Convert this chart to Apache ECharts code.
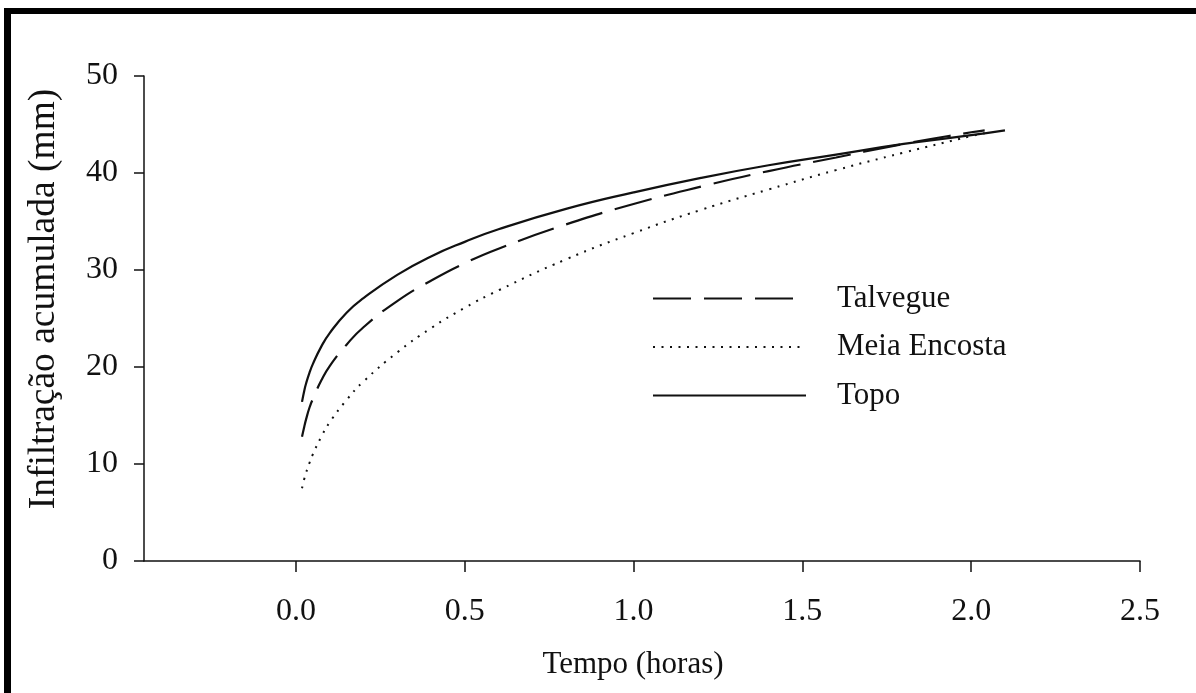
<!DOCTYPE html>
<html>
<head>
<meta charset="utf-8">
<script src="https://cdn.jsdelivr.net/npm/echarts@6/dist/echarts.min.js"></script>
<style>
  html, body { margin: 0; padding: 0; background: #fff; }
  #chart { width: 1196px; height: 693px; }
</style>
</head>
<body>
<div id="chart"></div>
<script>
// Tempo (horas) and infiltração acumulada (mm) for each position on the slope
const tempo = [0.018, 0.025, 0.03, 0.04, 0.05, 0.075, 0.1, 0.15, 0.2, 0.3, 0.4, 0.5, 0.6, 0.8, 1.0, 1.2, 1.4, 1.6, 1.8, 2.0];
const tempoFinal = { talvegue: 2.04, meiaEncosta: 2.04, topo: 2.1 };

const talvegue    = [12.8, 13.9, 14.6, 15.8, 16.7, 18.6, 20.1, 22.3, 24.1, 26.8, 28.9, 30.7, 32.2, 34.7, 36.8, 38.6, 40.2, 41.6, 43.0, 44.2, 44.4];
const meiaEncosta = [7.5, 8.5, 9.1, 10.1, 11.0, 12.8, 14.3, 16.6, 18.5, 21.5, 24.0, 26.1, 27.9, 31.1, 33.8, 36.2, 38.3, 40.3, 42.1, 43.8, 44.1];
const topo        = [16.4, 17.6, 18.3, 19.4, 20.3, 22.1, 23.5, 25.6, 27.1, 29.5, 31.4, 32.9, 34.2, 36.3, 38.0, 39.5, 40.8, 41.9, 43.0, 43.9, 44.4];

const xTicks = [0.0, 0.5, 1.0, 1.5, 2.0, 2.5];
const seriesNames = ['Talvegue', 'Meia Encosta', 'Topo'];

function pairs(xs, ys) {
  return ys.map((y, i) => [xs[i], y]);
}

const FONT = '"Liberation Serif", "Times New Roman", serif';
const INK = '#111';

const chart = echarts.init(document.getElementById('chart'));

chart.setOption({
  backgroundColor: '#fff',
  animation: false,
  grid: { left: 144, right: 56, top: 76, bottom: 132, containLabel: false },
  xAxis: {
    type: 'value',
    min: -0.45,
    max: 2.5,
    name: 'Tempo (horas)',
    nameLocation: 'middle',
    nameGap: 88,
    nameTextStyle: { fontFamily: FONT, fontSize: 31, color: INK, padding: [0, 18, 0, 0] },
    axisLine: { show: true, onZero: false, lineStyle: { color: INK, width: 1.5 } },
    axisTick: { show: true, length: 11, customValues: xTicks, lineStyle: { color: INK, width: 1.5 } },
    axisLabel: {
      customValues: xTicks,
      margin: 35,
      fontFamily: FONT, fontSize: 32, color: INK,
      formatter: v => v.toFixed(1)
    },
    splitLine: { show: false }
  },
  yAxis: {
    type: 'value',
    min: 0,
    max: 50,
    interval: 10,
    axisLine: { show: true, onZero: false, lineStyle: { color: INK, width: 1.5 } },
    axisTick: { show: true, length: 10, lineStyle: { color: INK, width: 1.5 } },
    axisLabel: { margin: 26, fontFamily: FONT, fontSize: 32, color: INK },
    splitLine: { show: false }
  },
  legend: {
    orient: 'vertical',
    left: 652,
    top: 283,
    padding: 0,
    itemWidth: 153,
    itemHeight: 14,
    itemGap: 17.5,
    data: seriesNames,
    itemStyle: { opacity: 0 },
    textStyle: { fontFamily: FONT, fontSize: 31, color: INK, lineHeight: 31, padding: [0, 0, 0, 26] }
  },
  graphic: [
    // frame edges along the top and left
    { type: 'rect', left: 4, top: 8, shape: { width: 1192, height: 6 }, style: { fill: '#000' } },
    { type: 'rect', left: 4, top: 8, shape: { width: 7, height: 685 }, style: { fill: '#000' } },
    {
      type: 'text',
      x: 44, y: 299,
      rotation: Math.PI / 2,
      style: {
        text: 'Infiltração acumulada (mm)',
        fontFamily: FONT, fontSize: 37.5, fill: INK,
        align: 'center', verticalAlign: 'middle'
      }
    }
  ],
  series: [
    {
      name: 'Talvegue',
      type: 'line',
      smooth: true,
      symbol: 'none',
      data: pairs(tempo.concat([tempoFinal.talvegue]), talvegue),
      itemStyle: { color: INK },
      lineStyle: { color: INK, width: 2.2, type: [38, 13] }
    },
    {
      name: 'Meia Encosta',
      type: 'line',
      smooth: true,
      symbol: 'none',
      data: pairs(tempo.concat([tempoFinal.meiaEncosta]), meiaEncosta),
      itemStyle: { color: INK },
      lineStyle: { color: INK, width: 2, type: [2, 6.5] }
    },
    {
      name: 'Topo',
      type: 'line',
      smooth: true,
      symbol: 'none',
      data: pairs(tempo.concat([tempoFinal.topo]), topo),
      itemStyle: { color: INK },
      lineStyle: { color: INK, width: 2.2, type: 'solid' }
    }
  ]
});
</script>
</body>
</html>
